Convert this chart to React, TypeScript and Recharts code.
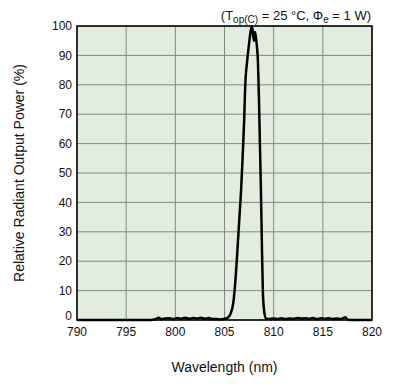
import { CartesianGrid, Label, Line, LineChart, ReferenceArea, XAxis, YAxis } from 'recharts';

// wavelength (nm) and relative radiant output power (%)
const wavelengths = [
  790, 797.6, 797.8, 798.0, 798.3, 798.6, 799.0, 799.4, 799.8, 800.2, 800.6, 801.0, 801.4, 801.8,
  802.2, 802.6, 803.0, 803.4, 803.8, 804.2, 804.6, 805.0, 805.3, 805.6, 805.9, 806.1, 806.3,
  806.5, 806.7, 806.85, 807.0, 807.1, 807.3, 807.5, 807.6, 807.7, 807.8, 807.9, 808.0, 808.1,
  808.2, 808.3, 808.4, 808.5, 808.6, 808.7, 808.8, 808.9, 809.0, 809.2, 809.5, 810.0, 810.4,
  810.8, 811.2, 811.6, 812.0, 812.4, 812.8, 813.2, 813.6, 814.0, 814.4, 814.8, 815.2, 815.6,
  816.0, 816.4, 816.8, 817.3, 817.5, 818.0, 820,
];
const power = [
  0, 0, 0.2, 0.3, 0.8, 0.3, 0.5, 0.6, 0.3, 0.7, 0.4, 0.8, 0.4, 0.7,
  0.5, 0.8, 0.4, 0.7, 0.3, 0.3, 0.2, 0.4, 0.7, 2, 6, 13, 23,
  34, 45, 56, 68, 79, 88, 94, 97, 99, 100, 97, 95, 98,
  96, 93, 88, 76, 60, 45, 26, 10, 4, 0.6, 0.3, 0.5, 0.3,
  0.6, 0.3, 0.5, 0.4, 0.7, 0.5, 0.6, 0.4, 0.7, 0.3, 0.6, 0.4, 0.6,
  0.3, 0.5, 0.3, 0.9, 0.2, 0, 0,
];
const xTicks = [790, 795, 800, 805, 810, 815, 820];
const yTicks = [0, 10, 20, 30, 40, 50, 60, 70, 80, 90, 100];

const data = wavelengths.map((w, i) => ({ w, p: power[i] }));

const font = '"Liberation Sans", Arial, Helvetica, sans-serif';

// the 0 label sits a little above the bottom edge in the original
const YTick = ({ x, y, payload }: any) => (
  <text
    x={x}
    y={payload.value === 0 ? y - 4 : y}
    dy="0.355em"
    textAnchor="end"
    fill="#111"
    fontSize={12}
    fontFamily={font}
  >
    {payload.value}
  </text>
);

export default function App() {
  return (
    <div style={{ position: 'absolute', left: 0, top: 0, width: 396, height: 384, fontFamily: font }}>
      <LineChart
        width={396}
        height={384}
        data={data}
        margin={{ top: 26, right: 24, bottom: 4, left: 0 }}
      >
        <CartesianGrid fill="#e2ecdf" stroke="#808a80" strokeOpacity={1} />
        <XAxis
          dataKey="w"
          type="number"
          domain={[790, 820]}
          ticks={xTicks}
          height={60}
          tickLine={false}
          axisLine={false}
          tickSize={0}
          tickMargin={7}
          tick={{ fill: '#111', fontSize: 12, fontFamily: font }}
        >
          <Label
            value="Wavelength (nm)"
            position="insideBottom"
            offset={8}
            style={{ fill: '#111', fontSize: 14, fontFamily: font }}
          />
        </XAxis>
        <YAxis
          type="number"
          domain={[0, 100]}
          ticks={yTicks}
          width={77}
          tickLine={false}
          axisLine={false}
          tickSize={0}
          tickMargin={5}
          tick={<YTick />}
        >
          <Label
            value="Relative Radiant Output Power (%)"
            angle={-90}
            position="insideLeft"
            offset={19}
            style={{ fill: '#111', fontSize: 14, fontFamily: font, textAnchor: 'middle' }}
          />
        </YAxis>
        <ReferenceArea x1={790} x2={820} y1={0} y2={100} fill="none" stroke="#000" strokeWidth={1.5} />
        <Line
          dataKey="p"
          type="monotone"
          stroke="#000"
          strokeWidth={2.5}
          dot={false}
          isAnimationActive={false}
        />
      </LineChart>
      <div
        style={{
          position: 'absolute',
          right: 25,
          top: 9,
          fontSize: 13,
          lineHeight: '13px',
          color: '#111',
          whiteSpace: 'nowrap',
        }}
      >
        (T<span style={{ fontSize: 10, verticalAlign: -3 }}>op(C)</span> = 25 °C, Φ
        <span style={{ fontSize: 10, verticalAlign: -3 }}>e</span> = 1 W)
      </div>
    </div>
  );
}
